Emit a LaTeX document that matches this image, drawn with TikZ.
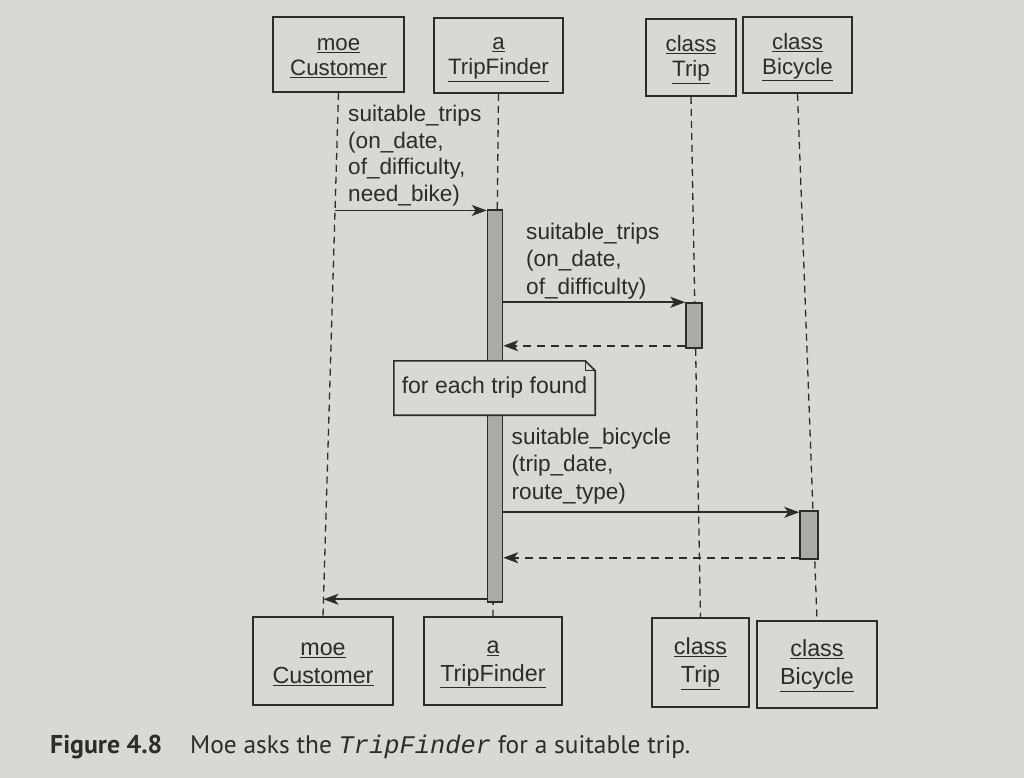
\documentclass[tikz,border=0pt]{standalone}
\usepackage{fontspec}
\setmainfont{Liberation Sans}
\newfontfamily\capfont{PT Sans}
\newfontfamily\capmono{Liberation Mono}
\usetikzlibrary{arrows.meta,calc}
\definecolor{paper}{HTML}{D9D8D3}
\definecolor{ink}{HTML}{2C2C2C}
\definecolor{barfill}{HTML}{ABABA6}
\newcommand{\tstrut}{\rule{0pt}{20pt}}
\newcommand{\bstrut}{\rule{0pt}{19pt}}
\begin{document}
\begin{tikzpicture}[x=1pt,y=-1pt,
  obj/.style={draw=ink, line width=1.6pt, align=center, text=ink, inner sep=0pt},
  topobj/.style={obj, font=\fontsize{22.3}{25}\selectfont},
  botobj/.style={obj, font=\fontsize{23.3}{28}\selectfont},
  life/.style={draw=ink, line width=1.3pt, dash pattern=on 7pt off 5pt},
  actbar/.style={draw=ink, fill=barfill, line width=1.5pt, inner sep=0pt},
  msg/.style={draw=ink, line width=1.6pt, -{Stealth[length=15pt,width=11pt,inset=4pt]}},
  ret/.style={msg, dash pattern=on 8pt off 6pt},
  lbl/.style={anchor=base west, align=left, inner sep=0pt, text=ink},
  notebox/.style={draw=ink, fill=paper, line width=1.6pt, line join=miter},
  captxt/.style={anchor=base west, inner sep=0pt, text=ink}
]
\fill[paper] (0,0) rectangle (1024,778);
\useasboundingbox (0,0) rectangle (1024,778);

% top objects
\node[topobj, minimum width=131pt, minimum height=75pt] (tc) at (338.5,54.5) {\tstrut\underline{moe}\\\underline{Customer}};
\node[topobj, minimum width=129pt, minimum height=75pt] (tf) at (498.5,55.5) {\tstrut\underline{a}\\\underline{TripFinder}};
\node[topobj, minimum width=90pt, minimum height=77pt] (tt) at (691,57.5) {\tstrut\underline{class}\\\underline{Trip}};
\node[topobj, minimum width=109pt, minimum height=76pt] (tb) at (797.5,55) {\tstrut\underline{class}\\\underline{Bicycle}};

% bottom objects
\node[botobj, minimum width=140pt, minimum height=88pt] (bc) at (323,661) {\bstrut\underline{moe}\\\underline{Customer}};
\node[botobj, minimum width=138pt, minimum height=88pt] (bf) at (493,661) {\bstrut\underline{a}\\\underline{TripFinder}};
\node[botobj, minimum width=97pt, minimum height=89pt] (bt) at (700.5,662.5) {\bstrut\underline{class}\\\underline{Trip}};
\node[botobj, minimum width=120pt, minimum height=87pt] (bb) at (817,664.5) {\bstrut\underline{class}\\\underline{Bicycle}};

% lifelines
\draw[life] (tc.south) -- (bc.north);
\draw[life] (tf.south) -- (bf.north);
\draw[life] (tt.south) -- (bt.north);
\draw[life] (tb.south) -- (bb.north);

% activation bars
\node[actbar, minimum width=15pt, minimum height=392pt] (af) at (495,406) {};
\node[actbar, minimum width=16pt, minimum height=45pt] (at) at (694,325.5) {};
\node[actbar, minimum width=18pt, minimum height=48pt] (ab) at (809,535) {};

% points
\coordinate (m1s) at ($(tc.south)!0.2248!(bc.north)$);
\coordinate (m6e) at ($(tc.south)!0.9676!(bc.north)$);
\coordinate (r1s) at ([yshift=3pt]at.south west);
\coordinate (m4e) at ([yshift=-2pt]ab.north west);
\coordinate (r2s) at ([yshift=2pt]ab.south west);

% messages
\draw[msg] (m1s) -- (af.west |- m1s);
\node[lbl, font=\fontsize{22.6}{26.5}\selectfont] (l1) at (348,201) {suitable\_trips\\(on\_date,\\of\_difficulty,\\need\_bike)};

\draw[msg] (af.east |- at.north west) -- (at.north west);
\node[lbl, font=\fontsize{22.6}{27.5}\selectfont] (l2) at (526,294) {suitable\_trips\\(on\_date,\\of\_difficulty)};
\draw[ret] (r1s) -- (af.east |- r1s);

\node[lbl, font=\fontsize{22.6}{27.5}\selectfont] (l3) at (511.5,499) {suitable\_bicycle\\(trip\_date,\\route\_type)};
\draw[msg] (af.east |- m4e) -- (m4e);
\draw[ret] (r2s) -- (af.east |- r2s);

\draw[msg] (af.west |- m6e) -- (m6e);

% note
\node[inner sep=0pt, minimum width=201pt, minimum height=54pt] (note) at (494.5,388) {};
\draw[notebox] (note.north west) -- ([xshift=-10pt]note.north east)
  -- ([yshift=-10pt]note.north east) -- (note.south east)
  -- (note.south west) -- cycle;
\draw[ink, line width=1.3pt] ([xshift=-10pt]note.north east) -- ([xshift=-10pt,yshift=-10pt]note.north east)
  -- ([yshift=-10pt]note.north east);
\node[text=ink, font=\fontsize{23}{27}\selectfont] (notetext) at (note.center) {for each trip found};

% caption
\node[captxt, font=\capfont\bfseries\fontsize{25.8}{30}\selectfont] (fig) at (50,753) {Figure 4.8};
\node[captxt, font=\capfont\fontsize{25.4}{30}\selectfont] (captext) at (190,753) {Moe asks the {\capmono\itshape TripFinder} for a suitable trip.};
\end{tikzpicture}
\end{document}
